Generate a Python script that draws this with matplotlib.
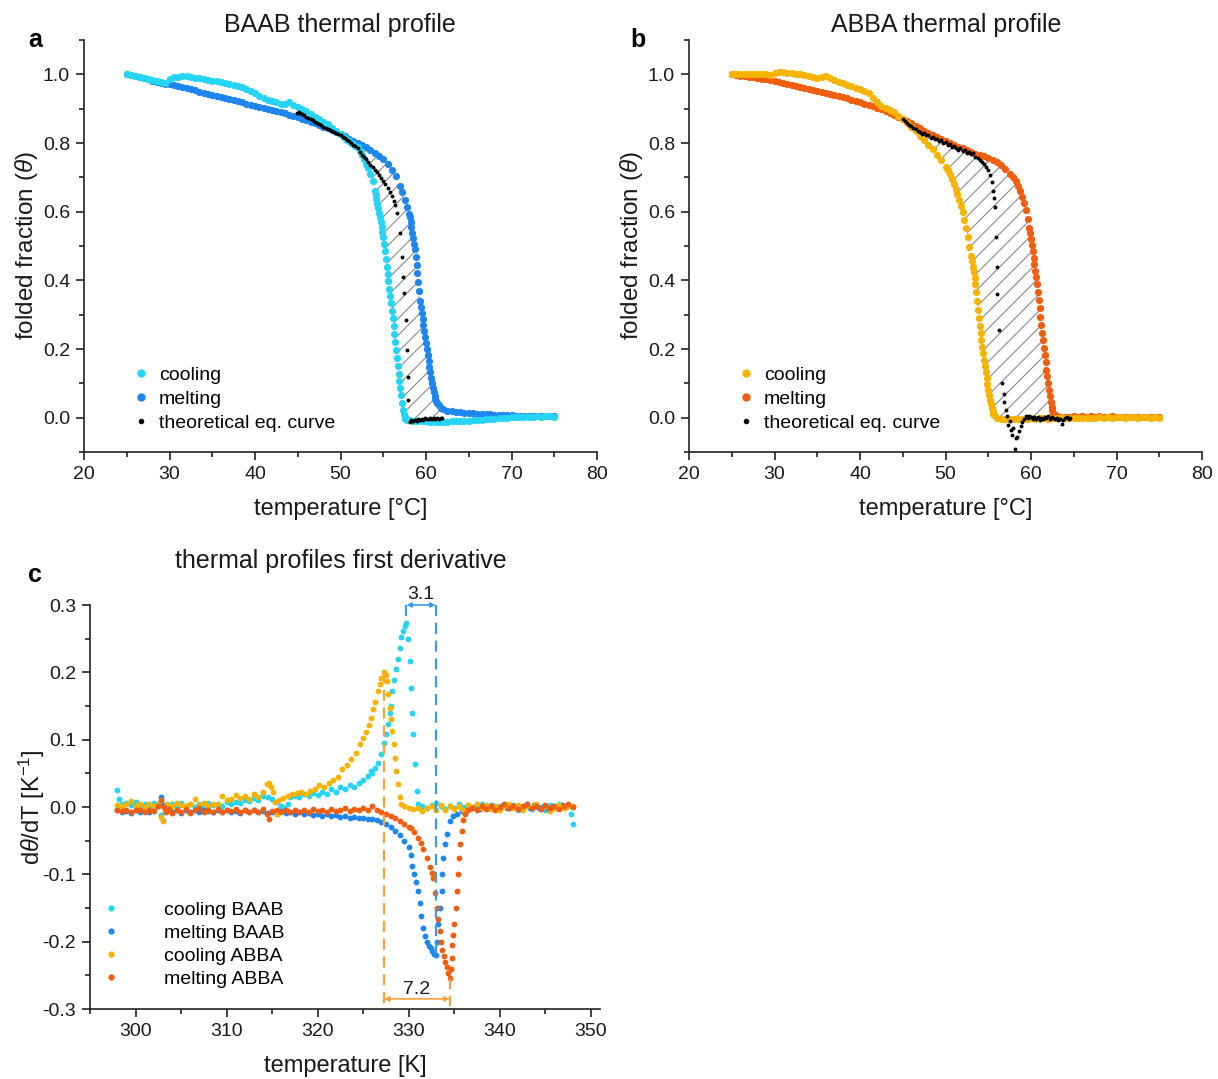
import numpy as np
import matplotlib
matplotlib.use("Agg")
import matplotlib.pyplot as plt
from matplotlib.lines import Line2D
from matplotlib.ticker import MultipleLocator, FormatStrFormatter

plt.rcParams['font.family'] = ['Liberation Sans', 'DejaVu Sans']
plt.rcParams['mathtext.fontset'] = 'custom'
plt.rcParams['mathtext.rm'] = 'Liberation Sans'
plt.rcParams['mathtext.it'] = 'Liberation Sans:italic'
plt.rcParams['hatch.linewidth'] = 0.8

# ---------------- data (T [°C], folded fraction) ----------------
cool_baab = np.array([
    (25.0, 1.000), (25.5, 0.998), (26.0, 0.995), (26.5, 0.992), (27.0, 0.989), (27.5, 0.986),
    (28.0, 0.983), (28.5, 0.980), (29.0, 0.977), (29.5, 0.975), (30.0, 0.985), (30.5, 0.992),
    (31.0, 0.993), (31.5, 0.994), (32.0, 0.994), (32.5, 0.992), (33.0, 0.990), (33.5, 0.988),
    (34.0, 0.986), (34.5, 0.984), (35.0, 0.982), (35.5, 0.980), (36.0, 0.978), (36.5, 0.975),
    (37.0, 0.972), (37.5, 0.969), (38.0, 0.966), (38.5, 0.962), (39.0, 0.958), (39.5, 0.952),
    (40.0, 0.946), (40.5, 0.938), (41.0, 0.930), (41.5, 0.924), (42.0, 0.922), (42.5, 0.920),
    (43.0, 0.915), (43.5, 0.913), (44.0, 0.920), (44.5, 0.912), (45.0, 0.905), (45.5, 0.899),
    (46.0, 0.893), (46.5, 0.885), (47.0, 0.877), (47.5, 0.869), (48.0, 0.862), (48.5, 0.854),
    (49.0, 0.845), (49.5, 0.836), (50.0, 0.826), (50.25, 0.821), (50.5, 0.816), (50.75, 0.810),
    (51.0, 0.805), (51.25, 0.801), (51.5, 0.797), (51.75, 0.792), (52.0, 0.787), (52.25, 0.777),
    (52.5, 0.765), (52.75, 0.753), (53.0, 0.740), (53.25, 0.726), (53.5, 0.710), (53.75, 0.688),
    (54.0, 0.660), (54.1, 0.648), (54.2, 0.636), (54.3, 0.623), (54.4, 0.610), (54.5, 0.597),
    (54.6, 0.585), (54.7, 0.570), (54.8, 0.555), (54.9, 0.540), (55.0, 0.525), (55.1, 0.505),
    (55.2, 0.485), (55.3, 0.462), (55.4, 0.440), (55.5, 0.419), (55.6, 0.398), (55.7, 0.376),
    (55.8, 0.355), (55.9, 0.333), (56.0, 0.312), (56.1, 0.290), (56.2, 0.267), (56.3, 0.243),
    (56.4, 0.220), (56.5, 0.196), (56.6, 0.173), (56.7, 0.150), (56.8, 0.128), (56.9, 0.107),
    (57.0, 0.086), (57.1, 0.065), (57.2, 0.044), (57.3, 0.023), (57.4, 0.010), (57.5, 0.002),
    (57.6, -0.003), (57.8, -0.006), (58.0, -0.007), (58.5, -0.009), (59.0, -0.010), (59.5, -0.011),
    (60.0, -0.011), (60.5, -0.012), (61.0, -0.012), (61.5, -0.012), (62.0, -0.012), (62.5, -0.012),
    (63.0, -0.011), (63.5, -0.011), (64.0, -0.010), (64.5, -0.010), (65.0, -0.009), (65.5, -0.008),
    (66.0, -0.007), (66.5, -0.006), (67.0, -0.005), (67.5, -0.004), (68.0, -0.003), (68.5, -0.002),
    (69.0, -0.001), (69.5, 0.000), (70.0, 0.001), (70.5, 0.002), (71.0, 0.002), (71.5, 0.003),
    (72.0, 0.002), (72.5, 0.003), (73.0, 0.004), (73.5, 0.003), (74.0, 0.004), (74.5, 0.004),
    (75.0, 0.003)])

melt_baab = np.array([
    (25.0, 1.000), (25.5, 0.997), (26.0, 0.994), (26.5, 0.991), (27.0, 0.988), (27.5, 0.985),
    (28.0, 0.982), (28.5, 0.979), (29.0, 0.976), (29.5, 0.973), (30.0, 0.971), (30.5, 0.968),
    (31.0, 0.965), (31.5, 0.962), (32.0, 0.959), (32.5, 0.956), (33.0, 0.953), (33.5, 0.950),
    (34.0, 0.946), (34.5, 0.943), (35.0, 0.939), (35.5, 0.936), (36.0, 0.933), (36.5, 0.930),
    (37.0, 0.927), (37.5, 0.924), (38.0, 0.921), (38.5, 0.918), (39.0, 0.915), (39.5, 0.912),
    (40.0, 0.909), (40.5, 0.906), (41.0, 0.903), (41.5, 0.900), (42.0, 0.897), (42.5, 0.894),
    (43.0, 0.890), (43.5, 0.887), (44.0, 0.883), (44.5, 0.879), (45.0, 0.875), (45.5, 0.871),
    (46.0, 0.867), (46.5, 0.862), (47.0, 0.858), (47.5, 0.853), (48.0, 0.848), (48.5, 0.843),
    (49.0, 0.838), (49.5, 0.832), (50.0, 0.826), (50.5, 0.820), (51.0, 0.813), (51.5, 0.807),
    (52.0, 0.801), (52.5, 0.795), (53.0, 0.787), (53.5, 0.779), (54.0, 0.770), (54.5, 0.762),
    (55.0, 0.752), (55.5, 0.738), (56.0, 0.722), (56.5, 0.703), (57.0, 0.676), (57.25, 0.656),
    (57.5, 0.635), (57.75, 0.614), (58.0, 0.592), (58.1, 0.584), (58.2, 0.570), (58.3, 0.555),
    (58.4, 0.538), (58.5, 0.522), (58.6, 0.506), (58.7, 0.490), (58.8, 0.468), (58.9, 0.446),
    (59.0, 0.421), (59.1, 0.396), (59.2, 0.368), (59.3, 0.340), (59.4, 0.322), (59.5, 0.305),
    (59.6, 0.287), (59.7, 0.270), (59.8, 0.253), (59.9, 0.236), (60.0, 0.218), (60.1, 0.200),
    (60.2, 0.183), (60.3, 0.166), (60.4, 0.149), (60.5, 0.132), (60.6, 0.116), (60.7, 0.100),
    (60.8, 0.087), (60.9, 0.075), (61.0, 0.064), (61.1, 0.055), (61.2, 0.049), (61.3, 0.044),
    (61.5, 0.036), (61.75, 0.029), (62.0, 0.024), (62.5, 0.020), (63.0, 0.018), (63.5, 0.017),
    (64.0, 0.016), (64.5, 0.015), (65.0, 0.014), (65.5, 0.013), (66.0, 0.012), (66.5, 0.011),
    (67.0, 0.010), (67.5, 0.010), (68.0, 0.009), (68.5, 0.008), (69.0, 0.008), (69.5, 0.007),
    (70.0, 0.007), (70.5, 0.006), (71.0, 0.006), (71.5, 0.006), (72.0, 0.005), (72.5, 0.005),
    (73.0, 0.005), (73.5, 0.005), (74.0, 0.004), (74.5, 0.004), (75.0, 0.004)])

theo_baab = np.array([
    (44.9, 0.886), (45.1, 0.889), (45.3, 0.886), (45.5, 0.884), (45.75, 0.881), (46.0, 0.877),
    (46.25, 0.874), (46.5, 0.870), (46.75, 0.866), (47.0, 0.862), (47.25, 0.859), (47.5, 0.855),
    (47.75, 0.852), (48.0, 0.848), (48.25, 0.845), (48.5, 0.841), (48.75, 0.838), (49.0, 0.835),
    (49.25, 0.832), (49.5, 0.829), (49.75, 0.826), (50.0, 0.822), (50.25, 0.818), (50.5, 0.814),
    (50.75, 0.810), (51.0, 0.805), (51.25, 0.800), (51.5, 0.795), (51.75, 0.790), (52.0, 0.784),
    (52.25, 0.775), (52.5, 0.766), (52.75, 0.760), (53.0, 0.753), (53.25, 0.745), (53.5, 0.737),
    (53.75, 0.730), (54.0, 0.722), (54.25, 0.715), (54.5, 0.707), (54.75, 0.699), (55.0, 0.690),
    (55.25, 0.680), (55.5, 0.670), (55.75, 0.658), (56.0, 0.645), (56.2, 0.632), (56.4, 0.618),
    (56.65, 0.596), (56.96, 0.538), (57.16, 0.468), (57.35, 0.410), (57.43, 0.363), (57.66, 0.285),
    (57.74, 0.198), (57.86, 0.119), (57.93, 0.052), (58.13, -0.012), (58.3, -0.008), (58.5, -0.010),
    (58.7, -0.006), (58.9, -0.009), (59.1, -0.004), (59.3, -0.007), (59.5, -0.003), (59.7, -0.006),
    (59.9, -0.002), (60.1, -0.005), (60.3, -0.004), (60.5, -0.001), (60.7, -0.004), (60.9, -0.002),
    (61.1, -0.005), (61.3, -0.001), (61.5, -0.003), (61.7, -0.002), (61.9, 0.000)])

cool_abba = np.array([
    (25.0, 1.000), (25.5, 1.000), (26.0, 1.000), (26.5, 1.000), (27.0, 1.001), (27.5, 1.002),
    (28.0, 1.002), (28.5, 1.001), (29.0, 1.000), (29.5, 0.998), (30.0, 1.004), (30.5, 1.007),
    (31.0, 1.006), (31.5, 1.005), (32.0, 1.004), (32.5, 1.002), (33.0, 1.000), (33.5, 0.997),
    (34.0, 0.994), (34.5, 0.991), (35.0, 0.988), (35.5, 0.993), (36.0, 0.996), (36.5, 0.990),
    (37.0, 0.984), (37.5, 0.979), (38.0, 0.975), (38.5, 0.970), (39.0, 0.965), (39.5, 0.960),
    (40.0, 0.956), (40.5, 0.952), (41.0, 0.945), (41.5, 0.932), (42.0, 0.918), (42.5, 0.909),
    (43.0, 0.902), (43.5, 0.897), (44.0, 0.889), (44.5, 0.880), (45.0, 0.870), (45.5, 0.858),
    (46.0, 0.846), (46.5, 0.834), (47.0, 0.821), (47.5, 0.808), (48.0, 0.795), (48.5, 0.782),
    (49.0, 0.766), (49.5, 0.750), (50.0, 0.730), (50.25, 0.720), (50.5, 0.710), (50.75, 0.696),
    (51.0, 0.680), (51.2, 0.666), (51.4, 0.651), (51.6, 0.634), (51.8, 0.617), (52.0, 0.598),
    (52.2, 0.576), (52.4, 0.552), (52.6, 0.526), (52.8, 0.498), (53.0, 0.470), (53.1, 0.455),
    (53.2, 0.440), (53.3, 0.424), (53.4, 0.407), (53.5, 0.390), (53.6, 0.365), (53.7, 0.340),
    (53.8, 0.315), (53.9, 0.290), (54.0, 0.268), (54.1, 0.247), (54.2, 0.227), (54.3, 0.207),
    (54.4, 0.187), (54.5, 0.168), (54.6, 0.150), (54.7, 0.132), (54.8, 0.115), (54.9, 0.098),
    (55.0, 0.082), (55.1, 0.066), (55.2, 0.052), (55.3, 0.039), (55.4, 0.028), (55.5, 0.019),
    (55.6, 0.012), (55.8, 0.004), (56.0, 0.000), (56.5, -0.003), (57.0, -0.003), (57.5, -0.004),
    (58.0, -0.003), (58.5, -0.004), (59.0, -0.003), (59.5, -0.003), (60.0, -0.002), (60.5, -0.003),
    (61.0, -0.002), (61.5, -0.002), (62.0, -0.003), (62.5, -0.002), (63.0, -0.001), (63.5, -0.002),
    (64.0, -0.001), (64.5, -0.002), (65.0, -0.001), (65.5, -0.001), (66.0, 0.000), (66.5, -0.001),
    (67.0, 0.000), (67.5, 0.000), (68.0, 0.001), (68.5, 0.000), (69.0, 0.001), (69.5, 0.000),
    (70.0, 0.001), (70.5, 0.001), (71.0, 0.000), (71.5, 0.001), (72.0, 0.001), (72.5, 0.000),
    (73.0, 0.001), (73.5, 0.001), (74.0, 0.000), (74.5, 0.001), (75.0, 0.000)])

melt_abba = np.array([
    (25.0, 1.000), (25.5, 0.998), (26.0, 0.996), (26.5, 0.994), (27.0, 0.993), (27.5, 0.991),
    (28.0, 0.989), (28.5, 0.987), (29.0, 0.985), (29.5, 0.983), (30.0, 0.980), (30.5, 0.977),
    (31.0, 0.975), (31.5, 0.973), (32.0, 0.970), (32.5, 0.967), (33.0, 0.964), (33.5, 0.961),
    (34.0, 0.958), (34.5, 0.955), (35.0, 0.952), (35.5, 0.949), (36.0, 0.946), (36.5, 0.943),
    (37.0, 0.940), (37.5, 0.937), (38.0, 0.933), (38.5, 0.930), (39.0, 0.926), (39.5, 0.922),
    (40.0, 0.919), (40.5, 0.915), (41.0, 0.911), (41.5, 0.907), (42.0, 0.903), (42.5, 0.898),
    (43.0, 0.893), (43.5, 0.888), (44.0, 0.882), (44.5, 0.877), (45.0, 0.871), (45.5, 0.864),
    (46.0, 0.857), (46.5, 0.850), (47.0, 0.843), (47.5, 0.836), (48.0, 0.830), (48.5, 0.824),
    (49.0, 0.818), (49.5, 0.812), (50.0, 0.806), (50.5, 0.800), (51.0, 0.795), (51.5, 0.789),
    (52.0, 0.784), (52.5, 0.779), (53.0, 0.774), (53.5, 0.769), (54.0, 0.765), (54.5, 0.761),
    (55.0, 0.756), (55.5, 0.751), (56.0, 0.745), (56.5, 0.735), (57.0, 0.723), (57.5, 0.711),
    (57.9, 0.700), (58.2, 0.690), (58.5, 0.676), (58.75, 0.661), (59.0, 0.642), (59.2, 0.625),
    (59.4, 0.604), (59.6, 0.580), (59.8, 0.553), (59.9, 0.537), (60.0, 0.520), (60.1, 0.502),
    (60.2, 0.484), (60.3, 0.465), (60.4, 0.447), (60.5, 0.428), (60.6, 0.409), (60.7, 0.390),
    (60.8, 0.366), (60.9, 0.342), (61.0, 0.318), (61.1, 0.294), (61.2, 0.270), (61.3, 0.247),
    (61.4, 0.225), (61.5, 0.203), (61.6, 0.182), (61.7, 0.161), (61.8, 0.140), (61.9, 0.120),
    (62.0, 0.100), (62.1, 0.081), (62.2, 0.063), (62.3, 0.047), (62.4, 0.032), (62.5, 0.021),
    (62.6, 0.014), (62.8, 0.008), (63.0, 0.005), (63.4, 0.003), (64.0, 0.003), (64.5, 0.003),
    (65.0, 0.004), (65.5, 0.003), (66.0, 0.004), (66.5, 0.003), (67.0, 0.004), (67.5, 0.003),
    (68.0, 0.004), (68.5, 0.003), (69.0, 0.003), (69.5, 0.004), (70.0, 0.003), (70.5, 0.003),
    (71.0, 0.002), (71.5, 0.003), (72.0, 0.003), (72.5, 0.002), (73.0, 0.003), (73.5, 0.002),
    (74.0, 0.003), (74.5, 0.002), (75.0, 0.002)])

theo_abba = np.array([
    (45.0, 0.870), (45.25, 0.864), (45.5, 0.859), (45.75, 0.853), (46.0, 0.849), (46.25, 0.843),
    (46.5, 0.840), (46.75, 0.835), (47.0, 0.832), (47.25, 0.826), (47.5, 0.829), (47.75, 0.822),
    (48.0, 0.824), (48.25, 0.816), (48.5, 0.818), (48.75, 0.811), (49.0, 0.813), (49.25, 0.806),
    (49.5, 0.808), (49.75, 0.800), (50.0, 0.803), (50.25, 0.795), (50.5, 0.797), (50.75, 0.789),
    (51.0, 0.792), (51.25, 0.784), (51.5, 0.781), (51.75, 0.785), (52.0, 0.777), (52.25, 0.780),
    (52.5, 0.771), (52.75, 0.775), (53.0, 0.767), (53.25, 0.770), (53.5, 0.760), (53.75, 0.757),
    (54.0, 0.750), (54.25, 0.745), (54.5, 0.738), (54.75, 0.731), (55.0, 0.722), (55.2, 0.708),
    (55.4, 0.685), (55.55, 0.660), (55.7, 0.640), (55.8, 0.615), (55.9, 0.527), (56.0, 0.440),
    (56.05, 0.360), (56.2, 0.256), (56.6, 0.100), (56.8, 0.070), (56.9, 0.045), (57.1, 0.023),
    (57.2, 0.005), (57.3, -0.020), (57.5, -0.010), (57.7, -0.035), (57.8, -0.050), (57.9, -0.030),
    (58.1, -0.090), (58.2, -0.060), (58.4, -0.055), (58.6, -0.040), (58.8, -0.025), (59.0, -0.012),
    (59.2, -0.004), (59.4, 0.004), (59.6, -0.002), (59.8, 0.006), (60.0, 0.001), (60.2, -0.005),
    (60.4, 0.003), (60.6, -0.003), (60.8, 0.002), (61.0, -0.006), (61.2, 0.000), (61.4, -0.004),
    (61.6, 0.003), (61.8, -0.002), (62.0, 0.004), (62.2, -0.003), (62.4, 0.002), (62.6, 0.000),
    (62.8, -0.005), (63.0, -0.002), (63.2, -0.008), (63.4, -0.004), (63.6, -0.018), (63.8, -0.006),
    (64.0, -0.002), (64.2, 0.002), (64.4, -0.004), (64.6, -0.001)])

# ---------------- data (T [K], dθ/dT) ----------------
d_cool_baab = np.array([
    (298.0, 0.025), (298.2, 0.012), (298.5, 0.004), (299.0, 0.006), (299.5, 0.003), (300.0, 0.007),
    (300.5, 0.002), (301.0, 0.005), (301.5, 0.001), (302.0, 0.006), (302.5, 0.002), (302.8, -0.012),
    (303.0, -0.020), (303.2, -0.008), (303.5, 0.003), (304.0, 0.005), (304.5, 0.002), (305.0, 0.006),
    (305.5, 0.001), (306.0, 0.004), (306.5, 0.000), (307.0, 0.005), (307.5, 0.002), (308.0, 0.006),
    (308.5, 0.003), (309.0, 0.005), (309.5, 0.002), (310.0, 0.007), (310.5, 0.004), (311.0, 0.008),
    (311.5, 0.006), (312.0, 0.010), (312.5, 0.009), (313.0, 0.014), (313.5, 0.011), (314.0, 0.016),
    (314.5, 0.015), (315.0, 0.012), (315.5, 0.008), (316.0, 0.002), (316.3, -0.002), (316.7, 0.004),
    (317.0, 0.015), (317.5, 0.017), (318.0, 0.015), (318.5, 0.019), (319.0, 0.017), (319.5, 0.021),
    (320.0, 0.018), (320.5, 0.023), (321.0, 0.020), (321.5, 0.026), (322.0, 0.023), (322.5, 0.029),
    (323.0, 0.027), (323.5, 0.033), (324.0, 0.030), (324.5, 0.036), (325.0, 0.040), (325.5, 0.046),
    (325.8, 0.053), (326.0, 0.050), (326.3, 0.058), (326.6, 0.066), (327.0, 0.079), (327.3, 0.095),
    (327.5, 0.108), (327.7, 0.123), (327.9, 0.140), (328.0, 0.150), (328.2, 0.172), (328.4, 0.188),
    (328.6, 0.205), (328.8, 0.220), (329.0, 0.236), (329.2, 0.252), (329.4, 0.262), (329.6, 0.269),
    (329.75, 0.273), (329.95, 0.250), (330.1, 0.217), (330.25, 0.177), (330.35, 0.140), (330.44, 0.108),
    (330.66, 0.064), (330.88, 0.024), (331.0, 0.004), (331.5, 0.001), (332.0, -0.002), (332.5, 0.003),
    (333.0, 0.006), (333.5, 0.001), (334.0, -0.003), (334.5, 0.002), (335.0, -0.001), (335.5, 0.004),
    (336.0, 0.000), (336.5, 0.003), (337.0, -0.002), (337.5, 0.002), (338.0, 0.005), (338.5, 0.000),
    (339.0, 0.003), (339.5, -0.002), (340.0, 0.002), (340.5, 0.004), (341.0, -0.001), (341.5, 0.003),
    (342.0, -0.004), (342.5, 0.001), (343.0, 0.004), (343.5, -0.003), (344.0, 0.002), (344.5, 0.000),
    (345.0, -0.004), (345.5, 0.003), (346.0, -0.002), (346.5, 0.004), (347.0, 0.001), (347.5, 0.003),
    (347.8, -0.010), (348.0, -0.025)])

d_melt_baab = np.array([
    (298.0, -0.005), (298.5, -0.008), (299.0, -0.006), (299.5, -0.009), (300.0, -0.005), (300.5, -0.007),
    (301.0, -0.004), (301.5, -0.008), (302.0, -0.003), (302.5, 0.004), (302.8, 0.015), (303.0, 0.003),
    (303.3, -0.006), (303.5, -0.004), (304.0, -0.007), (304.5, -0.005), (305.0, -0.009), (305.5, -0.004),
    (306.0, -0.007), (306.5, -0.005), (307.0, -0.008), (307.5, -0.004), (308.0, -0.006), (308.5, -0.008),
    (309.0, -0.005), (309.5, -0.007), (310.0, -0.004), (310.5, -0.008), (311.0, -0.006), (311.5, -0.009),
    (312.0, -0.005), (312.5, -0.007), (313.0, -0.004), (313.5, -0.008), (314.0, -0.006), (314.5, -0.009),
    (315.0, -0.007), (315.5, -0.010), (316.0, -0.006), (316.5, -0.009), (317.0, -0.007), (317.5, -0.010),
    (318.0, -0.008), (318.5, -0.011), (319.0, -0.009), (319.5, -0.012), (320.0, -0.010), (320.5, -0.013),
    (321.0, -0.011), (321.5, -0.014), (322.0, -0.012), (322.5, -0.015), (323.0, -0.014), (323.5, -0.016),
    (324.0, -0.015), (324.5, -0.017), (325.0, -0.016), (325.5, -0.018), (326.0, -0.018), (326.5, -0.020),
    (327.0, -0.022), (327.5, -0.025), (328.0, -0.029), (328.5, -0.035), (329.0, -0.042), (329.5, -0.050),
    (330.0, -0.060), (330.2, -0.072), (330.4, -0.088), (330.6, -0.100), (330.8, -0.112), (331.0, -0.125),
    (331.2, -0.142), (331.4, -0.162), (331.6, -0.180), (331.8, -0.192), (332.0, -0.200), (332.2, -0.207),
    (332.4, -0.210), (332.6, -0.214), (332.8, -0.218), (332.95, -0.220), (333.1, -0.200), (333.2, -0.174),
    (333.4, -0.150), (333.6, -0.125), (333.7, -0.100), (333.8, -0.076), (334.0, -0.055), (334.2, -0.040),
    (334.5, -0.021), (334.9, -0.014), (335.3, -0.010), (335.8, -0.006), (336.3, -0.004), (336.8, -0.002),
    (337.3, 0.000), (337.8, -0.003), (338.3, 0.002), (338.8, -0.001), (339.3, 0.002), (339.8, -0.002),
    (340.3, 0.001), (340.8, -0.002), (341.3, 0.002), (341.8, 0.000), (342.3, -0.003), (342.8, 0.002),
    (343.3, -0.001), (343.8, 0.003), (344.3, -0.002), (344.8, 0.001), (345.3, -0.003), (345.8, 0.002),
    (346.3, -0.001), (346.8, 0.003), (347.3, 0.000), (347.8, 0.002)])

d_cool_abba = np.array([
    (298.0, 0.003), (298.5, 0.001), (299.0, 0.005), (299.5, 0.009), (300.0, 0.002), (300.5, 0.004),
    (301.0, 0.000), (301.5, 0.005), (302.0, 0.002), (302.5, 0.004), (302.8, -0.015), (303.0, -0.021),
    (303.2, -0.005), (303.5, 0.004), (304.0, 0.002), (304.5, 0.006), (305.0, 0.003), (305.5, 0.002),
    (306.0, 0.005), (306.5, 0.012), (307.0, 0.003), (307.5, 0.006), (308.0, 0.002), (308.5, 0.005),
    (309.0, 0.004), (309.5, 0.016), (310.0, 0.010), (310.5, 0.012), (311.0, 0.018), (311.5, 0.013),
    (312.0, 0.016), (312.5, 0.012), (313.0, 0.019), (313.5, 0.015), (314.0, 0.022), (314.4, 0.034),
    (314.7, 0.036), (314.9, 0.030), (315.1, 0.022), (315.3, 0.008), (315.5, -0.010), (315.8, 0.010),
    (316.2, 0.014), (316.7, 0.017), (317.2, 0.019), (317.7, 0.021), (318.2, 0.023), (318.7, 0.020),
    (319.2, 0.024), (319.7, 0.026), (320.2, 0.032), (320.7, 0.030), (321.2, 0.036), (321.7, 0.040),
    (322.2, 0.045), (322.7, 0.056), (323.2, 0.062), (323.7, 0.072), (324.2, 0.080), (324.7, 0.093),
    (325.0, 0.103), (325.3, 0.112), (325.6, 0.122), (325.9, 0.132), (326.1, 0.145), (326.3, 0.156),
    (326.6, 0.172), (326.8, 0.182), (327.0, 0.191), (327.3, 0.200), (327.45, 0.196), (327.6, 0.187),
    (327.75, 0.168), (327.9, 0.147), (328.05, 0.130), (328.2, 0.113), (328.35, 0.093), (328.5, 0.073),
    (328.65, 0.053), (328.8, 0.034), (329.0, 0.015), (329.2, 0.004), (329.5, 0.001), (330.0, -0.002),
    (330.5, -0.003), (331.0, -0.002), (331.5, -0.006), (332.0, -0.001), (332.5, 0.002), (333.0, -0.004),
    (333.5, 0.003), (334.0, -0.005), (334.5, 0.001), (335.0, -0.003), (335.5, 0.002), (336.0, -0.004),
    (336.5, 0.003), (337.0, 0.000), (337.5, 0.004), (338.0, -0.002), (338.5, 0.003), (339.0, -0.003),
    (339.5, 0.002), (340.0, -0.004), (340.5, 0.001), (341.0, 0.004), (341.5, -0.002), (342.0, 0.003),
    (342.5, -0.004), (343.0, 0.002), (343.5, 0.000), (344.0, 0.004), (344.5, -0.003), (345.0, 0.002),
    (345.5, -0.006), (346.0, -0.002), (346.5, 0.003), (347.0, -0.001), (347.5, 0.002), (348.0, 0.001)])

d_melt_abba = np.array([
    (298.0, -0.004), (298.5, -0.006), (299.0, -0.004), (299.5, -0.007), (300.0, -0.005), (300.5, -0.004),
    (301.0, -0.008), (301.5, -0.005), (302.0, -0.006), (302.5, 0.002), (302.8, 0.010), (303.1, 0.000),
    (303.4, -0.008), (303.7, -0.003), (304.0, -0.009), (304.5, -0.004), (305.0, -0.008), (305.5, -0.003),
    (306.0, -0.009), (306.5, -0.005), (307.0, -0.002), (307.5, -0.008), (308.0, -0.004), (308.5, -0.007),
    (309.0, -0.003), (309.5, -0.008), (310.0, -0.004), (310.5, -0.006), (311.0, -0.003), (311.5, -0.008),
    (312.0, -0.005), (312.5, -0.007), (313.0, -0.004), (313.5, -0.007), (314.0, -0.003), (314.4, -0.010),
    (314.7, -0.018), (315.0, -0.006), (315.5, -0.004), (316.0, -0.008), (316.5, -0.005), (317.0, -0.007),
    (317.5, -0.004), (318.0, -0.008), (318.5, -0.005), (319.0, -0.007), (319.5, -0.003), (320.0, -0.006),
    (320.5, -0.004), (321.0, -0.007), (321.5, -0.003), (322.0, -0.006), (322.5, -0.004), (323.0, -0.002),
    (323.5, -0.006), (324.0, -0.003), (324.5, -0.005), (325.0, -0.002), (325.5, -0.004), (326.0, 0.001),
    (326.5, -0.005), (327.0, -0.008), (327.5, -0.011), (328.0, -0.013), (328.5, -0.016), (329.0, -0.021),
    (329.5, -0.025), (330.0, -0.029), (330.3, -0.031), (330.6, -0.037), (331.0, -0.046), (331.3, -0.054),
    (331.6, -0.063), (332.0, -0.076), (332.3, -0.089), (332.5, -0.098), (332.7, -0.105), (332.9, -0.128),
    (333.1, -0.150), (333.25, -0.167), (333.4, -0.184), (333.55, -0.200), (333.7, -0.212), (333.85, -0.222),
    (334.0, -0.230), (334.15, -0.238), (334.3, -0.246), (334.5, -0.254), (334.6, -0.240), (334.7, -0.224),
    (334.8, -0.205), (334.9, -0.190), (335.0, -0.174), (335.15, -0.150), (335.3, -0.125), (335.4, -0.100),
    (335.5, -0.076), (335.65, -0.055), (335.8, -0.036), (336.0, -0.020), (336.2, -0.010), (336.5, -0.005),
    (337.0, -0.002), (337.5, -0.005), (338.0, 0.001), (338.5, -0.003), (339.0, 0.002), (339.5, -0.004),
    (340.0, 0.000), (340.5, 0.004), (341.0, -0.002), (341.5, 0.002), (342.0, -0.003), (342.5, 0.001),
    (343.0, 0.005), (343.5, -0.002), (344.0, 0.002), (344.5, -0.003), (345.0, 0.003), (345.5, -0.001),
    (346.0, 0.002), (346.5, -0.003), (347.0, 0.001), (347.5, 0.004), (348.0, 0.000)])

gap_baab_label = "3.1"
gap_abba_label = "7.2"

# ---------------- styles ----------------
C_CYAN = '#26D5F6'
C_BLUE = '#1E86EE'
C_AMBER = '#F6B300'
C_RED = '#F15E10'
C_DASH_BLUE = '#3A9BE2'
C_DASH_ORANGE = '#F6A23A'
AX_COL = '#222222'
TXT = '#1a1a1a'

fig = plt.figure(figsize=(12.18, 10.79), dpi=100)
W, H = 1218.0, 1079.0


def px_axes(l, t, r, b):
    return fig.add_axes([l / W, 1 - b / H, (r - l) / W, (b - t) / H])


ax_a = px_axes(84, 40, 597, 452)
ax_b = px_axes(689, 40, 1202, 452)
ax_c = px_axes(90, 605, 600, 1009)


def style_axis(ax):
    for s in ('top', 'right'):
        ax.spines[s].set_visible(False)
    for s in ('left', 'bottom'):
        ax.spines[s].set_linewidth(1.2)
        ax.spines[s].set_color(AX_COL)
    ax.tick_params(which='major', direction='out', length=6, width=1.2, colors=AX_COL,
                   labelsize=14, labelcolor=TXT, pad=4)
    ax.tick_params(which='minor', direction='out', length=3.5, width=1.2, colors=AX_COL)


def profile_panel(ax, cool, melt, theo, c_cool, c_melt, hatch_lo, hatch_hi):
    mm = (melt[:, 0] >= hatch_lo) & (melt[:, 0] <= hatch_hi)
    cm = (cool[:, 0] >= hatch_lo) & (cool[:, 0] <= hatch_hi)
    px = np.concatenate([melt[mm, 0], cool[cm, 0][::-1]])
    py = np.concatenate([melt[mm, 1], cool[cm, 1][::-1]])
    ax.fill(px, py, facecolor='none', edgecolor='#8a8a8a', linewidth=0, hatch='//', zorder=1)
    ax.plot(cool[:, 0], cool[:, 1], 'o', color=c_cool, ms=5.2, mew=0, zorder=3)
    ax.plot(melt[:, 0], melt[:, 1], 'o', color=c_melt, ms=5.2, mew=0, zorder=2)
    ax.plot(theo[:, 0], theo[:, 1], 'o', color='black', ms=2.8, mew=0, zorder=4)
    ax.set_xlim(20, 80)
    ax.set_ylim(-0.1, 1.1)
    ax.xaxis.set_major_locator(MultipleLocator(10))
    ax.xaxis.set_minor_locator(MultipleLocator(5))
    ax.yaxis.set_major_locator(MultipleLocator(0.2))
    ax.yaxis.set_minor_locator(MultipleLocator(0.1))
    ax.yaxis.set_major_formatter(FormatStrFormatter('%.1f'))
    style_axis(ax)
    ax.set_xlabel('temperature [°C]', fontsize=17, labelpad=11, color=TXT)
    ax.set_ylabel('folded fraction ($\\theta$)', fontsize=17.5, labelpad=2, color=TXT)
    handles = [Line2D([], [], ls='none', marker='o', ms=6, mew=0, color=c_cool),
               Line2D([], [], ls='none', marker='o', ms=6, mew=0, color=c_melt),
               Line2D([], [], ls='none', marker='o', ms=4, mew=0, color='black')]
    ax.legend(handles, ['cooling', 'melting', 'theoretical eq. curve'], loc='center left',
              bbox_to_anchor=(0.0916, 0.129), frameon=False, fontsize=14, handlelength=1.0,
              handletextpad=0.45, borderpad=0, borderaxespad=0, labelspacing=0.33)


profile_panel(ax_a, cool_baab, melt_baab, theo_baab, C_CYAN, C_BLUE, 49.8, 62.5)
profile_panel(ax_b, cool_abba, melt_abba, theo_abba, C_AMBER, C_RED, 45.0, 63.5)

# panel c
for arr, col in ((d_cool_baab, C_CYAN), (d_melt_baab, C_BLUE), (d_cool_abba, C_AMBER), (d_melt_abba, C_RED)):
    ax_c.plot(arr[:, 0], arr[:, 1], 'o', color=col, ms=4.2, mew=0, zorder=3)

ax_c.set_xlim(295, 351)
ax_c.set_ylim(-0.3, 0.3)
ax_c.xaxis.set_major_locator(MultipleLocator(10))
ax_c.xaxis.set_minor_locator(MultipleLocator(5))
ax_c.yaxis.set_major_locator(MultipleLocator(0.1))
ax_c.yaxis.set_minor_locator(MultipleLocator(0.05))
ax_c.yaxis.set_major_formatter(FormatStrFormatter('%.1f'))
style_axis(ax_c)
ax_c.set_xlabel('temperature [K]', fontsize=17, labelpad=11, color=TXT)
ax_c.set_ylabel('d$\\theta$/dT [K$^{-1}$]', fontsize=17, labelpad=-3, color=TXT)

# peak positions from the data
i1 = np.argmax(d_cool_baab[:, 1]); x1, y1 = d_cool_baab[i1]
i2 = np.argmin(d_melt_baab[:, 1]); x2, y2 = d_melt_baab[i2]
i3 = np.argmax(d_cool_abba[:, 1]); x3, y3 = d_cool_abba[i3]
i4 = np.argmin(d_melt_abba[:, 1]); x4, y4 = d_melt_abba[i4]

dash = (0, (5, 3))
ax_c.plot([x1, x1], [0.3, y1], color=C_DASH_BLUE, lw=1.6, ls=dash, clip_on=False, zorder=4)
ax_c.plot([x2, x2], [0.3, y2], color=C_DASH_BLUE, lw=1.6, ls=dash, clip_on=False, zorder=4)
ax_c.annotate('', xy=(x2, 0.3), xytext=(x1, 0.3),
              arrowprops=dict(arrowstyle='<|-|>', color=C_DASH_BLUE, lw=1.2, shrinkA=0, shrinkB=0,
                              mutation_scale=7), annotation_clip=False)
ax_c.text((x1 + x2) / 2, 0.303, gap_baab_label, ha='center', va='bottom', fontsize=14,
          color=TXT, clip_on=False)

ax_c.plot([x3, x3], [y3, -0.295], color=C_DASH_ORANGE, lw=1.6, ls=dash, zorder=4)
ax_c.plot([x4, x4], [y4, -0.295], color=C_DASH_ORANGE, lw=1.6, ls=dash, zorder=4)
ax_c.annotate('', xy=(x4, -0.285), xytext=(x3, -0.285),
              arrowprops=dict(arrowstyle='<|-|>', color=C_DASH_ORANGE, lw=1.2, shrinkA=0, shrinkB=0,
                              mutation_scale=7))
ax_c.text((x3 + x4) / 2, -0.271, gap_abba_label, ha='center', va='center', fontsize=14, color=TXT)

handles_c = [Line2D([], [], ls='none', marker='o', ms=4.5, mew=0, color=c)
             for c in (C_CYAN, C_BLUE, C_AMBER, C_RED)]
ax_c.legend(handles_c, ['cooling BAAB', 'melting BAAB', 'cooling ABBA', 'melting ABBA'],
            loc='center left', bbox_to_anchor=(0.004, 0.159), frameon=False, fontsize=14,
            handlelength=2.0, handletextpad=1.7, borderpad=0, borderaxespad=0, labelspacing=0.28)

# titles and panel letters
fig.text(340 / W, 1 - 25 / H, 'BAAB thermal profile', ha='center', va='center', fontsize=18, color=TXT)
fig.text(946 / W, 1 - 25 / H, 'ABBA thermal profile', ha='center', va='center', fontsize=18, color=TXT)
fig.text(341 / W, 1 - 561 / H, 'thermal profiles first derivative', ha='center', va='center', fontsize=18,
         color=TXT)
fig.text(35 / W, 1 - 40 / H, 'a', ha='center', va='center', fontsize=18, fontweight='bold')
fig.text(638 / W, 1 - 40 / H, 'b', ha='center', va='center', fontsize=18, fontweight='bold')
fig.text(35 / W, 1 - 575 / H, 'c', ha='center', va='center', fontsize=18, fontweight='bold')

fig.savefig('out.png', dpi=100)
